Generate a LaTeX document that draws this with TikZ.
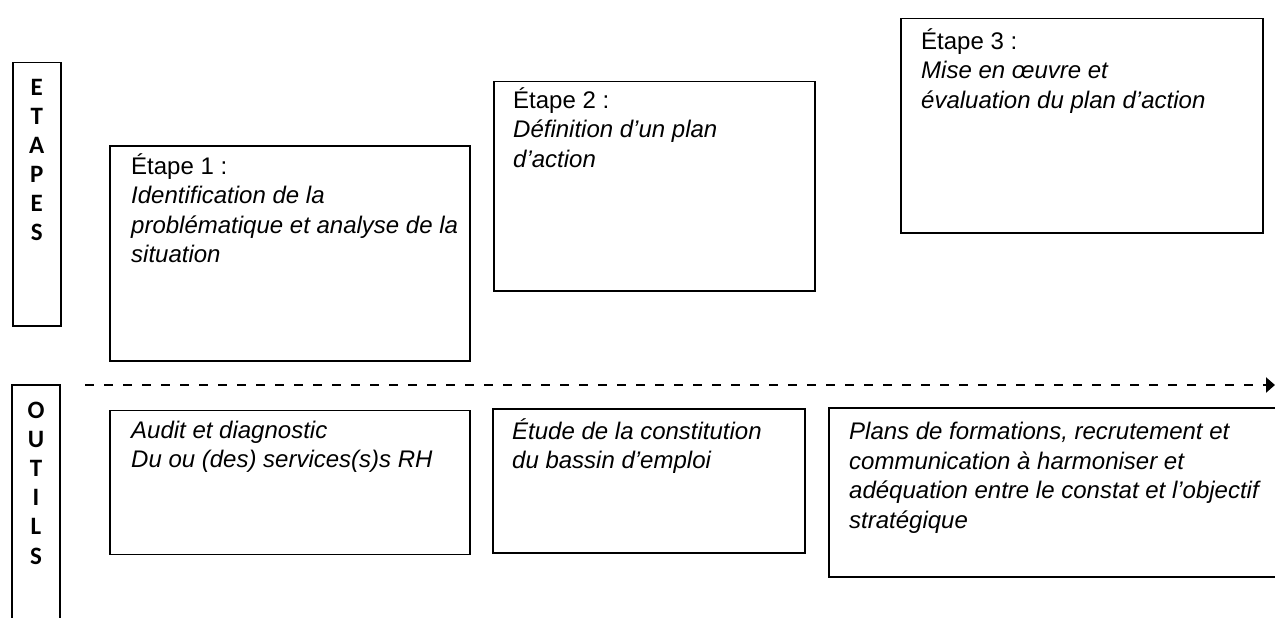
\documentclass[tikz,border=0pt]{standalone}
\usepackage{fontspec}
\setmainfont{Liberation Sans}
\newfontfamily\grasfont{Carlito}
\usetikzlibrary{positioning,arrows.meta}
\tikzstyle{cadre}=[rectangle,draw,line width=1.5pt,anchor=north west,inner sep=0pt]
\tikzstyle{texte}=[align=left,inner sep=0pt,font=\fontsize{24}{29.5}\selectfont]
\tikzstyle{titre}=[align=center,inner sep=0pt,font=\grasfont\bfseries\fontsize{25}{21.5}\selectfont]
\tikzstyle{fleche}=[line width=2.4pt,dash pattern=on 9pt off 10pt,-{Triangle[length=9pt,width=15pt]}]

\begin{document}
\begin{tikzpicture}[x=1pt,y=-1pt]
\useasboundingbox (0,0) rectangle (1275,618);

% colonne de gauche
\node[cadre,minimum width=48pt,minimum height=263pt] (ETA) at (12,62) {};
\node[titre,below=17pt of ETA.north] (ETAt) {E\\[7.6pt]T\\[7.6pt]A\\[7.6pt]P\\[7.6pt]E\\[7.6pt]S};
\coordinate (OUTa) at (12,618);
\coordinate (OUTb) at (60,618);
\coordinate (OUTh) at (36,385);
\draw[line width=1.5pt] (OUTa) |- (60,385) -- (OUTb);
\node[titre,below=17pt of OUTh] (OUTt) {O\\[7.6pt]U\\[7.6pt]T\\[7.6pt]I\\[7.6pt]L\\[7.6pt]S};

% les etapes
\node[cadre,minimum width=360pt,minimum height=215pt] (E1) at (109,145) {};
\node[cadre,minimum width=321pt,minimum height=209pt] (E2) at (493,81) {};
\node[cadre,minimum width=362pt,minimum height=214pt] (E3) at (900,18) {};
\node[texte,below right=8pt and 22pt of E1.north west] (E1t) {Étape 1 :\\\textit{Identification de la}\\\textit{problématique et analyse de la}\\\textit{situation}};
\node[texte,below right=6pt and 20pt of E2.north west] (E2t) {Étape 2 :\\\textit{Définition d’un plan}\\\textit{d’action}};
\node[texte,below right=10pt and 21pt of E3.north west] (E3t) {Étape 3 :\\\textit{Mise en œuvre et}\\\textit{évaluation du plan d’action}};

% la fleche
\coordinate (debut) at (85,385);
\coordinate (fin) at (1275,385);
\draw[fleche] (debut) -- (fin);

% les outils
\node[cadre,minimum width=360pt,minimum height=144pt,below=48pt of E1.south west,anchor=north west] (O1) {};
\node[cadre,minimum width=312pt,minimum height=144pt] (O2) at (492,408) {};
\coordinate (O3a) at (1275,408);
\coordinate (O3b) at (1275,577);
\draw[line width=1.5pt] (O3a) -| (829,577) -- (O3b);
\node[texte,below right=11pt and 22pt of O1.north west] (O1t) {\textit{Audit et diagnostic}\\\textit{Du ou (des) services(s)s RH}};
\node[texte,below right=10pt and 20pt of O2.north west] (O2t) {\textit{Étude de la constitution}\\\textit{du bassin d’emploi}};
\node[texte,anchor=north west] (O3t) at (849,422) {\textit{Plans de formations, recrutement et}\\\textit{communication à harmoniser et}\\\textit{adéquation entre le constat et l’objectif}\\\textit{stratégique}};

\end{tikzpicture}
\end{document}
